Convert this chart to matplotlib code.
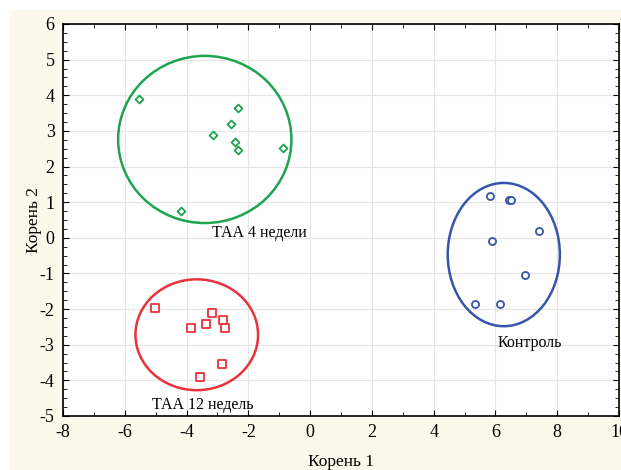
import matplotlib.pyplot as plt
from matplotlib.patches import Ellipse, Rectangle
from matplotlib.ticker import MultipleLocator

plt.rcParams['font.family'] = ['Liberation Serif', 'DejaVu Serif']
plt.rcParams['axes.unicode_minus'] = False

# ТАА 4 недели
x4 = [-5.55, -2.32, -2.55, -3.16, -2.42, -2.35, -0.87, -4.19]
y4 = [3.89, 3.64, 3.19, 2.88, 2.69, 2.46, 2.52, 0.75]

# ТАА 12 недель
x12 = [-5.03, -3.18, -2.81, -3.36, -3.87, -2.76, -2.85, -3.58]
y12 = [-1.97, -2.12, -2.31, -2.42, -2.53, -2.53, -3.54, -3.91]

# Контроль
xk = [5.82, 6.44, 6.50, 7.41, 5.90, 6.97, 5.35, 6.16]
yk = [1.17, 1.06, 1.06, 0.20, -0.10, -1.03, -1.86, -1.86]

# ellipses: centre x, centre y, width, height
ell4 = (-3.41, 2.76, 5.61, 4.69)
ell12 = (-3.67, -2.72, 3.97, 3.11)
ellk = (6.27, -0.47, 3.63, 4.02)

green = '#1fa34f'
red = '#e8333c'
blue = '#3556aa'
cream = '#fcf8ec'

fig = plt.figure(figsize=(6.21, 4.70), dpi=100)
fig.patch.set_facecolor('white')
fig.patches.append(Rectangle((10/621, 0), 1, 1 - 10/470, transform=fig.transFigure,
                             facecolor=cream, edgecolor='none', zorder=-10))
ax = fig.add_axes([63/621, 54/470, 556/621, 392/470])
ax.set_facecolor('white')

ax.scatter(x4, y4, marker='D', s=16, facecolors='white', edgecolors=green, linewidths=1.3, zorder=3)
ax.scatter(x12, y12, marker='s', s=30, facecolors='white', edgecolors=red, linewidths=1.3, zorder=3)
ax.scatter(xk, yk, marker='o', s=26, facecolors='white', edgecolors=blue, linewidths=1.3, zorder=3)

for (cx, cy, w, h), c in [(ell4, green), (ell12, red), (ellk, blue)]:
    ax.add_patch(Ellipse((cx, cy), w, h, fill=False, edgecolor=c, linewidth=1.8, zorder=2))

ax.text(-3.17, 0.13, 'ТАА 4 недели', fontsize=11.5, va='center', ha='left')
ax.text(-5.11, -4.70, 'ТАА 12 недель', fontsize=11.5, va='center', ha='left')
ax.text(6.06, -2.95, 'Контроль', fontsize=11.5, va='center', ha='left')

ax.set_xlim(-8, 10)
ax.set_ylim(-5, 6)
ax.xaxis.set_major_locator(MultipleLocator(2))
ax.xaxis.set_minor_locator(MultipleLocator(1))
ax.yaxis.set_major_locator(MultipleLocator(1))
ax.yaxis.set_minor_locator(MultipleLocator(0.25))
ax.tick_params(which='both', direction='in', top=True, right=True, labelsize=13, pad=6)
ax.tick_params(which='major', length=4)
ax.tick_params(which='minor', length=3)
ax.grid(True, which='major', color='#e6e6e6', linewidth=0.8)
ax.set_axisbelow(True)
for s in ax.spines.values():
    s.set_linewidth(1.2)

ax.set_xlabel('Корень 1', fontsize=12.5, labelpad=9)
ax.set_ylabel('Корень 2', fontsize=12.5, labelpad=-2)

fig.savefig('out.png', dpi=100, facecolor=fig.get_facecolor())
